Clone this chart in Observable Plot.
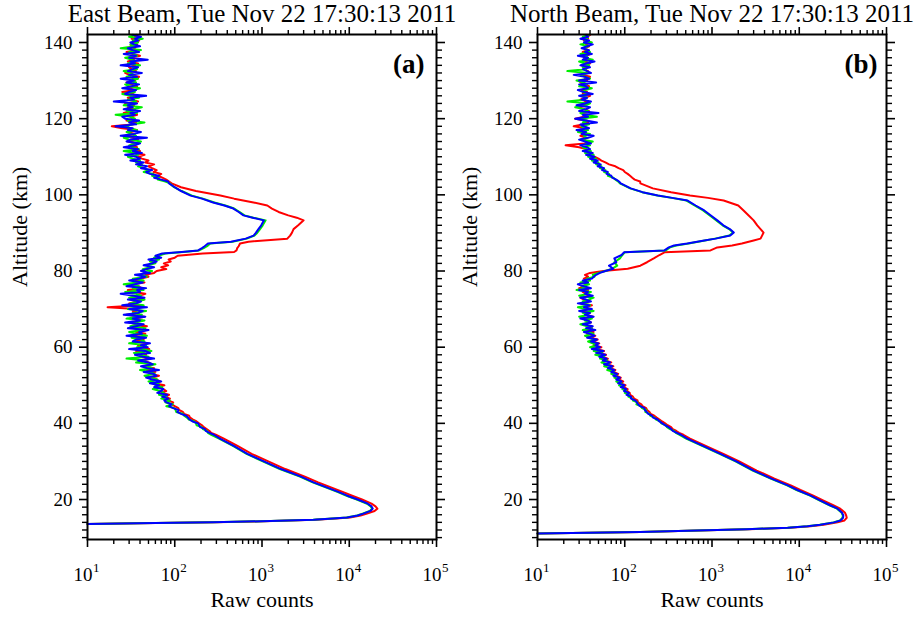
<!DOCTYPE html>
<html><head><meta charset="utf-8">
<script src="https://cdn.jsdelivr.net/npm/d3@7"></script>
<script src="https://cdn.jsdelivr.net/npm/@observablehq/plot@0.6"></script>
<style>
html,body{margin:0;padding:0;background:#fff;}
#wrap{display:flex;width:920px;height:617px;overflow:hidden;}
</style></head><body><div id="wrap"></div>
<script>
// ---- labels & ticks ----
const panelTitles = ["East Beam, Tue Nov 22 17:30:13 2011", "North Beam, Tue Nov 22 17:30:13 2011"];
const panelTags = ["(a)", "(b)"];
const xLabel = "Raw counts";
const yLabel = "Altitude (km)";
const seriesColors = ["#ff0000", "#00ee00", "#0000ff"]; // red, green, blue
const xDecades = [10, 100, 1000, 10000, 100000];
const xDecadeExps = ["1", "2", "3", "4", "5"];
const xMinorTicks = [20,30,40,50,60,70,80,90,200,300,400,500,600,700,800,900,2000,3000,4000,5000,6000,7000,8000,9000,20000,30000,40000,50000,60000,70000,80000,90000];
const yMajorTicks = [20, 40, 60, 80, 100, 120, 140];
const yMinorTicks = [10,12,14,16,18,22,24,26,28,30,32,34,36,38,42,44,46,48,50,52,54,56,58,62,64,66,68,70,72,74,76,78,82,84,86,88,90,92,94,96,98,102,104,106,108,110,112,114,116,118,122,124,126,128,130,132,134,136,138];

// ---- Panel (a): East beam — altitudes (km) ----
const altA = [
13.6, 13.8, 14.0, 14.3, 14.7, 15.0, 15.3, 15.8, 16.3, 17.0, 17.6, 18.2, 18.9, 20, 21, 22, 23, 24.5, 26, 28, 30, 32, 34, 36,
37, 37.5, 38, 38.5, 39, 39.5, 40, 40.5, 41, 41.5,
42, 42.5, 43, 43.5, 44, 44.5, 45, 45.5, 46, 46.5,
47, 47.5, 48, 48.5, 49, 49.5, 50, 50.5, 51, 51.5,
52, 52.5, 53, 53.5, 54, 54.5, 55, 55.5, 56, 56.5,
57, 57.5, 58, 58.5, 59, 59.5, 60, 60.5, 61, 61.5,
62, 62.5, 63, 63.5, 64, 64.5, 65, 65.5, 66, 66.5,
67, 67.5, 68, 68.5, 69, 69.5, 70, 70.5, 71, 71.5,
72, 72.5, 73, 73.5, 74, 74.5, 75, 75.5, 76, 76.5,
77, 77.5, 78, 78.5, 79, 79.5, 80, 80.5, 81, 81.5,
82, 82.5, 83, 83.5,
84, 84.6, 85, 85.4, 86, 86.5, 87.2, 87.7, 88.5, 89.3, 90, 91, 92, 93.3, 94, 94.6, 95.5, 96.4, 97.2, 98, 99, 99.8, 101, 102, 103,
103.5, 104, 104.5, 105, 105.5, 106, 106.5, 107, 107.5, 108,
108.5, 109, 109.5, 110, 110.5, 111, 111.5, 112, 112.5, 113,
113.5, 114, 114.5, 115, 115.5, 116, 116.5, 117, 117.5, 118,
118.5, 119, 119.5, 120, 120.5, 121, 121.5, 122, 122.5, 123,
123.5, 124, 124.5, 125, 125.5, 126, 126.5, 127, 127.5, 128,
128.5, 129, 129.5, 130, 130.5, 131, 131.5, 132, 132.5, 133,
133.5, 134, 134.5, 135, 135.5, 136, 136.5, 137, 137.5, 138,
138.5, 139, 139.5, 140, 140.5, 141, 141.5, 142];
const redA = [
10, 62, 285, 1050, 4100, 7000, 10200, 13500, 16000, 19500, 21000, 20000, 18000, 14000, 10800, 8400, 6500, 4400, 3100, 1850, 1180, 760, 530, 365,
295, 262, 250, 232, 215, 205, 190, 178, 162, 150,
146, 128, 124, 112, 110, 100, 92, 96, 84, 88,
78, 86, 70, 80, 74, 64, 76, 60, 68, 62,
55, 66, 52, 60, 48, 58, 44, 55, 50, 42,
53, 40, 47, 44, 36, 51, 42, 38, 48, 35,
44, 39, 31, 46, 36, 42, 33, 48, 37, 30,
42, 35, 45, 28, 39, 33, 36, 17, 41, 30,
37, 44, 31, 39, 46, 34, 29, 42, 38, 33,
45, 36, 41, 50, 46, 58, 62, 80, 70, 84,
75, 90, 85, 100,
108, 210, 480, 510, 520, 540, 560, 700, 1950, 2100, 2200, 2300, 2600, 3000, 2500, 2000, 1550, 1300, 1150, 800, 480, 333, 175, 118, 92,
86, 80, 72, 64, 70, 57, 62, 55, 50, 58,
46, 50, 42, 38, 45, 35, 40, 33, 37, 31,
36, 29, 38, 33, 27, 35, 30, 37, 25, 19,
33, 36, 28, 34, 31, 37, 26, 32, 35, 29,
34, 27, 38, 31, 29, 36, 33, 25, 35, 30,
37, 31, 28, 35, 33, 39, 30, 27, 36, 32,
30, 35, 38, 29, 34, 31, 40, 33, 28, 36,
34, 31, 37, 33, 39, 32, 36, 34];
const greenA = [
10, 58, 270, 980, 3850, 6400, 9300, 12300, 14200, 17200, 18300, 17600, 16000, 12200, 9300, 7300, 5650, 3800, 2720, 1600, 1020, 665, 470, 322,
262, 240, 235, 210, 205, 178, 175, 168, 145, 138,
128, 124, 104, 102, 100, 80, 95, 78, 88, 70,
80, 66, 75, 68, 56, 72, 60, 65, 50, 63,
54, 45, 59, 52, 40, 55, 47, 60, 36, 46,
28, 50, 40, 34, 54, 42, 37, 47, 30, 45,
41, 32, 48, 37, 30, 43, 46, 31, 39, 35,
45, 28, 37, 42, 33, 47, 29, 39, 44, 31,
38, 45, 30, 41, 36, 27, 44, 33, 39, 26,
37, 44, 33, 48, 40, 45, 55, 43, 52, 49,
60, 52, 66, 58,
65, 78, 125, 190, 215, 235, 255, 460, 670, 820, 880, 950, 1020, 1100, 800, 630, 555, 480, 380, 285, 210, 158, 120, 98, 88,
78, 64, 66, 55, 57, 44, 50, 45, 38, 42,
36, 40, 33, 29, 38, 35, 26, 39, 32, 30,
35, 41, 30, 26, 36, 32, 28, 37, 31, 27,
33, 45, 29, 35, 31, 21, 37, 28, 34, 42,
26, 32, 36, 29, 39, 31, 25, 35, 33, 40,
30, 27, 36, 32, 38, 28, 34, 31, 26, 37,
33, 40, 29, 35, 32, 27, 37, 34, 30, 41,
24, 35, 31, 38, 33, 43, 30, 36];
const blueA = [
10, 60, 275, 1000, 3900, 6500, 9500, 12500, 14500, 17500, 18600, 18000, 16300, 12500, 9500, 7500, 5800, 3900, 2800, 1650, 1050, 680, 480, 330,
280, 250, 226, 222, 196, 190, 185, 160, 148, 142,
135, 118, 107, 110, 96, 86, 92, 80, 76, 84,
72, 82, 63, 70, 74, 58, 66, 52, 70, 55,
47, 62, 57, 44, 66, 48, 41, 56, 50, 38,
58, 43, 35, 52, 46, 30, 49, 41, 52, 33,
36, 47, 28, 42, 39, 50, 29, 36, 44, 27,
40, 33, 46, 26, 38, 43, 30, 48, 25, 36,
41, 29, 45, 34, 24, 40, 37, 47, 28, 35,
43, 30, 39, 46, 35, 52, 41, 47, 58, 44,
55, 62, 50, 70,
60, 72, 120, 185, 205, 220, 240, 440, 650, 800, 850, 910, 980, 1050, 780, 613, 540, 470, 370, 275, 205, 152, 118, 100, 86,
84, 70, 58, 66, 52, 47, 55, 41, 48, 36,
44, 31, 40, 36, 27, 42, 33, 38, 26, 35,
40, 28, 31, 48, 24, 34, 41, 29, 33, 21,
36, 30, 39, 27, 25, 35, 31, 40, 26, 33,
29, 37, 20, 34, 31, 47, 27, 30, 36, 25,
32, 39, 28, 34, 24, 37, 30, 42, 29, 33,
38, 24, 35, 31, 49, 30, 36, 26, 39, 33,
29, 40, 34, 31, 38, 35, 41, 33];

// ---- Panel (b): North beam — altitudes (km) ----
const altB = [
11.1, 11.5, 11.8, 12.2, 12.6, 13.0, 13.4, 14.0, 14.5, 15.2, 15.8, 16.5, 17.6, 18.5, 19.7, 21, 22.5, 23.7, 25.5, 27.6, 30, 32, 34, 36,
37, 37.5, 38, 38.5, 39, 39.5, 40, 40.5, 41, 41.5,
42, 42.5, 43, 43.5, 44, 44.5, 45, 45.5, 46, 46.5,
47, 47.5, 48, 48.5, 49, 49.5, 50, 50.5, 51, 51.5,
52, 52.5, 53, 53.5, 54, 54.5, 55, 55.5, 56, 56.5,
57, 57.5, 58, 58.5, 59, 59.5, 60, 60.5, 61, 61.5,
62, 62.5, 63, 63.5, 64, 64.5, 65, 65.5, 66, 66.5,
67, 67.5, 68, 68.5, 69, 69.5, 70, 70.5, 71, 71.5,
72, 72.5, 73, 73.5, 74, 74.5, 75, 75.5, 76, 76.5,
77, 77.5, 78, 78.5, 79, 79.5,
80, 80.6, 81.4, 82.3, 83.3, 84.2, 84.9, 85.4, 86.2, 86.7, 87.2, 88, 88.5, 89.3, 90.1, 91, 92, 93.3, 94.5, 95.9, 97.2, 98.5, 99.2, 99.8, 100.7, 101.7, 103,
103.5, 104, 104.5, 105, 105.5, 106, 106.5, 107, 107.5, 108,
108.5, 109, 109.5, 110, 110.5, 111, 111.5, 112, 112.5, 113,
113.5, 114, 114.5, 115, 115.5, 116, 116.5, 117, 117.5, 118,
118.5, 119, 119.5, 120, 120.5, 121, 121.5, 122, 122.5, 123,
123.5, 124, 124.5, 125, 125.5, 126, 126.5, 127, 127.5, 128,
128.5, 129, 129.5, 130, 130.5, 131, 131.5, 132, 132.5, 133,
133.5, 134, 134.5, 135, 135.5, 136, 136.5, 137, 137.5, 138,
138.5, 139, 139.5, 140, 140.5, 141, 141.5, 142];
const redB = [
10, 155, 540, 2600, 7800, 13500, 19000, 27500, 33000, 35000, 34500, 33500, 29500, 24500, 19000, 14500, 10300, 8000, 5200, 3250, 2050, 1350, 860, 560,
470, 420, 390, 355, 340, 310, 290, 268, 250, 232,
218, 198, 192, 180, 176, 160, 155, 142, 140, 128,
124, 115, 114, 106, 108, 97, 102, 90, 96, 85,
90, 80, 84, 74, 78, 68, 74, 62, 70, 60,
64, 55, 61, 50, 58, 46, 54, 44, 51, 42,
49, 40, 46, 37, 44, 35, 42, 38, 34, 41,
37, 33, 43, 36, 40, 32, 38, 35, 42, 31,
39, 34, 31, 40, 36, 33, 38, 30, 35, 37,
33, 36, 34, 38, 35, 40,
57, 108, 151, 180, 215, 250, 285, 960, 1150, 1700, 2200, 3000, 3600, 3750, 3900, 3600, 3300, 3000, 2650, 2300, 2000, 1360, 900, 560, 340, 210, 151,
150, 130, 122, 115, 108, 100, 96, 85, 78, 66,
60, 54, 50, 45, 42, 40, 37, 36, 30, 21,
35, 38, 33, 36, 31, 37, 34, 30, 36, 26,
33, 38, 35, 27, 34, 37, 32, 39, 35, 30,
36, 33, 38, 31, 35, 40, 33, 37, 32, 36,
39, 34, 31, 37, 35, 40, 33, 36, 38, 34,
37, 32, 40, 35, 38, 34, 36, 41, 33, 38,
35, 39, 36, 41, 34, 38, 37, 40];
const greenB = [
10, 148, 520, 2450, 7300, 12300, 17100, 24600, 29300, 31300, 31600, 30600, 27100, 22200, 17200, 13300, 9300, 7250, 4700, 2930, 1860, 1220, 780, 505,
425, 385, 368, 330, 305, 295, 262, 255, 228, 220,
196, 192, 172, 176, 158, 152, 136, 140, 124, 122,
110, 112, 100, 104, 94, 96, 86, 92, 80, 85,
76, 80, 70, 75, 63, 70, 58, 66, 54, 63,
52, 58, 46, 55, 44, 50, 40, 48, 43, 38,
45, 40, 35, 44, 38, 33, 42, 37, 31, 40,
35, 42, 30, 38, 33, 44, 36, 29, 40, 34,
33, 39, 44, 30, 37, 41, 28, 36, 32, 39,
31, 40, 37, 45, 43, 50,
60, 72, 82, 76, 88, 94, 100, 295, 330, 390, 540, 830, 1080, 1580, 1740, 1570, 1320, 1120, 950, 790, 630, 510, 345, 236, 158, 115, 88,
84, 78, 74, 64, 66, 58, 60, 52, 54, 47,
50, 42, 47, 38, 44, 35, 41, 37, 33, 40,
36, 43, 31, 37, 34, 40, 29, 38, 35, 32,
39, 33, 37, 30, 48, 35, 31, 38, 34, 27,
36, 40, 22, 34, 37, 31, 39, 33, 35, 42,
30, 37, 34, 28, 40, 35, 31, 38, 22, 36,
33, 39, 35, 30, 43, 34, 37, 31, 40, 36,
34, 38, 31, 42, 35, 37, 33, 39];
const blueB = [
10, 150, 525, 2500, 7400, 12500, 17400, 25000, 29700, 31800, 32000, 31000, 27500, 22500, 17500, 13500, 9500, 7400, 4800, 3000, 1900, 1250, 800, 520,
440, 395, 355, 340, 318, 290, 270, 250, 238, 212,
205, 186, 178, 170, 168, 150, 142, 138, 132, 118,
118, 105, 112, 98, 104, 90, 99, 84, 92, 80,
88, 74, 82, 70, 76, 64, 72, 58, 68, 56,
62, 51, 60, 47, 57, 42, 52, 46, 50, 41,
48, 37, 45, 40, 34, 46, 36, 43, 33, 41,
38, 31, 44, 35, 40, 30, 42, 34, 39, 29,
41, 36, 31, 43, 35, 38, 30, 41, 34, 29,
38, 33, 42, 44, 47, 52,
60, 74, 66, 80, 76, 92, 98, 285, 320, 367, 520, 815, 1100, 1620, 1780, 1600, 1350, 1150, 980, 815, 650, 525, 350, 240, 160, 117, 90,
86, 80, 72, 70, 62, 64, 55, 58, 49, 53,
44, 49, 40, 45, 36, 43, 33, 40, 37, 31,
41, 35, 30, 38, 44, 32, 36, 28, 39, 34,
31, 48, 36, 27, 38, 33, 50, 30, 36, 40,
28, 35, 41, 32, 37, 30, 43, 34, 29, 38,
36, 30, 47, 30, 39, 35, 26, 41, 37, 33,
40, 31, 36, 45, 33, 38, 29, 42, 35, 39,
32, 37, 43, 34, 39, 31, 38, 36];

const serif = "'Liberation Serif','Times New Roman',serif";

function panel(alt, series, title, tag, ml, mr, tagDx) {
  series.forEach((s, k) => { if (s.length !== alt.length) throw new Error(`series ${k} length ${s.length} != ${alt.length}`); });
  const lineMarks = series.map((vals, k) =>
    Plot.line(vals, {x: d => d, y: (d, i) => alt[i], stroke: seriesColors[k], strokeWidth: 2, strokeLinejoin: "round"})
  );
  const blank = () => "";
  return Plot.plot({
    width: 460, height: 617,
    marginLeft: ml, marginRight: mr, marginTop: 34, marginBottom: 78,
    style: {fontFamily: serif, fontSize: "19px", color: "#000", background: "#fff", overflow: "visible"},
    x: {type: "log", domain: [10, 1e5], axis: null},
    y: {domain: [9.5, 142.1], axis: null},
    marks: [
      ...lineMarks,
      Plot.frame({stroke: "#000", strokeWidth: 2}),
      Plot.axisX({anchor: "bottom", ticks: xDecades, tickSize: 8, tickFormat: blank, label: null, strokeWidth: 1.6}),
      Plot.axisX({anchor: "bottom", ticks: xMinorTicks, tickSize: 5, tickFormat: blank, label: null, strokeWidth: 1.4}),
      Plot.axisX({anchor: "top", ticks: xDecades, tickSize: 8, tickFormat: blank, label: null, strokeWidth: 1.6}),
      Plot.axisX({anchor: "top", ticks: xMinorTicks, tickSize: 5, tickFormat: blank, label: null, strokeWidth: 1.4}),
      Plot.axisY({anchor: "left", ticks: yMajorTicks, tickSize: 8, tickPadding: 7, label: null, strokeWidth: 1.6, fontSize: 19}),
      Plot.axisY({anchor: "left", ticks: yMinorTicks, tickSize: 5, tickFormat: blank, label: null, strokeWidth: 1.4}),
      Plot.axisY({anchor: "right", ticks: yMajorTicks, tickSize: 8, tickFormat: blank, label: null, strokeWidth: 1.6}),
      Plot.axisY({anchor: "right", ticks: yMinorTicks, tickSize: 5, tickFormat: blank, label: null, strokeWidth: 1.4}),
      Plot.text(xDecades, {x: d => d, text: () => "10", frameAnchor: "bottom", lineAnchor: "middle", dy: 35, dx: 5, textAnchor: "end", fontSize: 19, fill: "#000"}),
      Plot.text(xDecades, {x: d => d, text: (d, i) => xDecadeExps[i], frameAnchor: "bottom", lineAnchor: "middle", dy: 28, dx: 5.5, textAnchor: "start", fontSize: 13, fill: "#000"}),
      Plot.text([xLabel], {text: d => d, frameAnchor: "bottom", lineAnchor: "middle", dy: 60, fontSize: 22, fill: "#000"}),
      Plot.text([yLabel], {text: d => d, frameAnchor: "left", lineAnchor: "middle", dx: -68, rotate: -90, fontSize: 22, fill: "#000"}),
      Plot.text([title], {text: d => d, frameAnchor: "top", lineAnchor: "middle", dy: -21, fontSize: 25, fill: "#000"}),
      Plot.text([tag], {text: d => d, frameAnchor: "top-right", dx: tagDx, dy: 19, fontSize: 27, fontWeight: "bold", textAnchor: "end", lineAnchor: "top", fill: "#000"})
    ]
  });
}

const wrap = document.getElementById("wrap");
wrap.appendChild(panel(altA, [redA, greenA, blueA], panelTitles[0], panelTags[0], 87, 24, -12));
wrap.appendChild(panel(altB, [redB, greenB, blueB], panelTitles[1], panelTags[1], 77, 34, -9));
</script></body></html>
